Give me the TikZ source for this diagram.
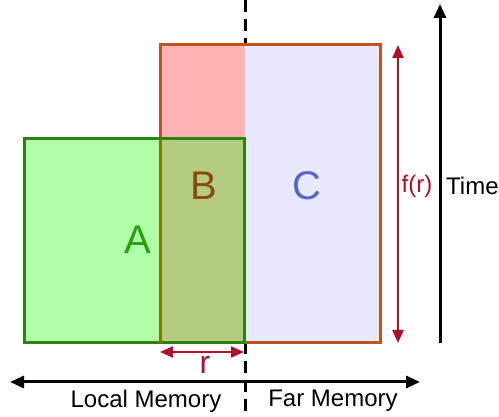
\documentclass[tikz,border=0pt]{standalone}
\usepackage{fontspec}
\setmainfont{Liberation Sans}
\usetikzlibrary{arrows.meta}

\definecolor{hotfill}{RGB}{255,180,180}
\definecolor{coldfill}{RGB}{232,232,255}
\definecolor{localfill}{RGB}{176,255,168}
\definecolor{sharedfill}{RGB}{179,204,128}
\definecolor{farline}{RGB}{192,84,30}
\definecolor{localline}{RGB}{46,130,14}
\definecolor{sharedline}{RGB}{122,122,0}
\definecolor{textA}{RGB}{34,160,16}
\definecolor{textB}{RGB}{139,74,16}
\definecolor{textC}{RGB}{85,102,204}
\definecolor{sizered}{RGB}{176,16,42}

\tikzset{
  every label/.style={font=\fontsize{24}{28}\selectfont, inner sep=0pt},
  region letter/.style={font=\fontsize{40}{46}\selectfont, inner sep=0pt},
  size arrow/.style={<->, sizered, line width=2.2pt, >={Triangle[length=13pt,width=11pt]}},
  axis arrow/.style={black, line width=3pt, >={Triangle[length=14pt,width=12pt]}}
}

\begin{document}
\begin{tikzpicture}[x=1pt, y=1pt]
\useasboundingbox (0,0) rectangle (499,417);

\coordinate (far-sw) at (160,74);
\coordinate (far-ne) at (380,372);
\coordinate (local-sw) at (24,74);
\coordinate (local-ne) at (244,278);
\coordinate (split-top) at (245,417);
\coordinate (split-bot) at (245,0);

% split line, behind the regions
\draw [line width=3pt, dash pattern=on 12pt off 7pt] (split-top) -- (split-bot);

% memory regions
\fill [hotfill] (far-sw) rectangle (245,372);
\fill [coldfill] (245,74) rectangle (far-ne);
\fill [localfill] (local-sw) rectangle (160,278);
\fill [sharedfill] (far-sw) rectangle (local-ne);
\draw [farline, line width=3pt] (far-sw) rectangle (far-ne);
\draw [localline, line width=3pt] (local-sw) rectangle (local-ne);
\draw [sharedline, line width=3pt] (far-sw) -- (160,278);

\foreach \l/\c/\x/\y in {A/textA/138/177, B/textB/204/231, C/textC/307/231}
  \node [region letter, text=\c] (letter-\l) at (\x,\y) {\l};

% r and f(r)
\coordinate (r-left) at (160,65);
\coordinate (r-right) at (244,65);
\draw [size arrow] (r-left) -- (r-right);
\node [every label, font=\fontsize{32}{36}\selectfont, text=sizered] (r-label) at (205,52) {r};

\coordinate (f-bot) at (398,74);
\coordinate (f-top) at (398,372);
\draw [size arrow] (f-bot) -- (f-top);
\node [every label, text=sizered] (f-label) at (417,231) {f(r)};

% axes
\coordinate (time-bot) at (440,74);
\coordinate (time-top) at (440,413);
\draw [axis arrow, ->] (time-bot) -- (time-top);
\node [every label, anchor=west] (time-label) at (446,231) {Time};

\coordinate (mem-left) at (10,35);
\coordinate (mem-right) at (420,35);
\draw [axis arrow, <->] (mem-left) -- (mem-right);

\foreach \l/\x in {Local Memory/146, Far Memory/333}
  \node [every label] (mem-\x) at (\x,16) {\l};
\end{tikzpicture}
\end{document}
